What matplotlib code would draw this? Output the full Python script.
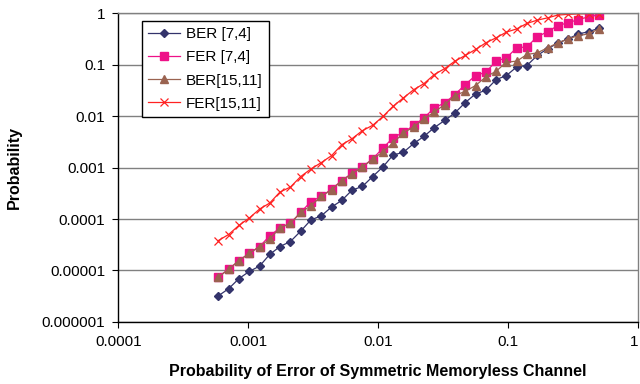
import matplotlib
matplotlib.use("Agg")
import matplotlib.pyplot as plt

plt.rcParams['font.family'] = ['Liberation Sans', 'DejaVu Sans']

# channel error probability (x axis)
p_err = [0.000588, 0.000705, 0.000846, 0.00102, 0.00122, 0.00146, 0.00175,
         0.00211, 0.00253, 0.00303, 0.00364, 0.00437, 0.00524, 0.00629,
         0.00755, 0.00906, 0.0109, 0.0130, 0.0156, 0.0188, 0.0225, 0.0270,
         0.0325, 0.0389, 0.0467, 0.0561, 0.0673, 0.0808, 0.0969, 0.1163,
         0.1395, 0.1674, 0.2009, 0.2411, 0.2894, 0.3472, 0.4167, 0.5]

ber_74 = [3.2e-6, 4.4e-6, 6.9e-6, 9.6e-6, 1.21e-5, 2.04e-5, 2.91e-5, 3.65e-5,
          5.8e-5, 9.6e-5, 1.15e-4, 1.71e-4, 2.30e-4, 3.65e-4, 4.3e-4, 6.7e-4,
          1.04e-3, 1.76e-3, 1.98e-3, 2.96e-3, 4.06e-3, 6.0e-3, 8.3e-3, 0.0116,
          0.0184, 0.0272, 0.032, 0.0516, 0.0618, 0.091, 0.097, 0.152, 0.205,
          0.264, 0.32, 0.40, 0.44, 0.52]

fer_74 = [7.6e-6, 1.05e-5, 1.55e-5, 2.16e-5, 2.91e-5, 4.7e-5, 6.7e-5, 8.3e-5,
          1.34e-4, 2.19e-4, 2.75e-4, 3.82e-4, 5.6e-4, 7.8e-4, 1.03e-3, 1.49e-3,
          2.41e-3, 3.83e-3, 4.85e-3, 6.65e-3, 9.3e-3, 0.0145, 0.0182, 0.0264,
          0.0413, 0.0619, 0.0718, 0.118, 0.137, 0.214, 0.224, 0.352, 0.44,
          0.58, 0.66, 0.76, 0.86, 0.94]

ber_1511 = [7.4e-6, 1.05e-5, 1.55e-5, 2.16e-5, 2.91e-5, 4.06e-5, 6.7e-5, 8.3e-5,
            1.34e-4, 1.81e-4, 2.75e-4, 3.71e-4, 5.6e-4, 7.6e-4, 1.03e-3, 1.47e-3,
            2.04e-3, 3.01e-3, 4.72e-3, 6.2e-3, 8.9e-3, 0.0121, 0.0168, 0.0252,
            0.0306, 0.0395, 0.0583, 0.0751, 0.1125, 0.118, 0.159, 0.171, 0.214,
            0.268, 0.32, 0.37, 0.40, 0.50]

fer_1511 = [3.81e-5, 4.99e-5, 7.5e-5, 1.05e-4, 1.56e-4, 2.04e-4, 3.34e-4, 4.19e-4,
            6.7e-4, 9.4e-4, 1.25e-3, 1.71e-3, 2.79e-3, 3.66e-3, 5.24e-3, 6.65e-3,
            9.95e-3, 0.0156, 0.0227, 0.033, 0.0432, 0.0647, 0.0847, 0.118, 0.152,
            0.199, 0.268, 0.336, 0.433, 0.50, 0.64, 0.74, 0.82, 0.93, 0.96, 0.98,
            0.99, 0.995]

decades = [0.000001, 0.00001, 0.0001, 0.001, 0.01, 0.1, 1]
decade_labels = ["0.000001", "0.00001", "0.0001", "0.001", "0.01", "0.1", "1"]
x_decades = [0.0001, 0.001, 0.01, 0.1, 1]
x_labels = ["0.0001", "0.001", "0.01", "0.1", "1"]

fig = plt.figure(figsize=(6.4, 3.84), dpi=100)
ax = fig.add_axes([0.185, 0.162, 0.812, 0.803])

ax.plot(p_err, ber_74, color='#33336b', marker='D', markersize=3.8, lw=0.9, label='BER [7,4]')
ax.plot(p_err, fer_74, color='#ee1188', marker='s', markersize=5.2, lw=0.9, label='FER [7,4]')
ax.plot(p_err, ber_1511, color='#9a6350', marker='^', markersize=5.2, lw=0.9, label='BER[15,11]')
ax.plot(p_err, fer_1511, color='#ff2222', marker='x', markersize=5.2, mew=0.9, lw=0.9, label='FER[15,11]')

ax.set_xscale('log')
ax.set_yscale('log')
ax.set_xlim(0.0001, 1)
ax.set_ylim(0.000001, 1)
ax.set_xticks(x_decades)
ax.set_xticklabels(x_labels)
ax.set_yticks(decades)
ax.set_yticklabels(decade_labels)
ax.minorticks_off()
ax.tick_params(axis='both', labelsize=11, direction='out', length=4.5, width=0.8, color='black')
ax.tick_params(axis='x', pad=5)
ax.tick_params(axis='y', pad=5)
# keep the "1" at the right edge inside the picture
ax.get_xticklabels()[-1].set_horizontalalignment('right')

ax.grid(axis='y', color='#808080', lw=1)
ax.set_axisbelow(True)
for side in ['top', 'right']:
    ax.spines[side].set_color('#808080')
    ax.spines[side].set_linewidth(1)
for side in ['left', 'bottom']:
    ax.spines[side].set_color('black')
    ax.spines[side].set_linewidth(1)

ax.set_xlabel("Probability of Error of Symmetric Memoryless Channel", fontsize=11.5, fontweight='bold', labelpad=11)
ax.set_ylabel("Probability", fontsize=11.5, fontweight='bold', labelpad=14)

leg = ax.legend(loc='upper left', bbox_to_anchor=(0.045, 0.975), fontsize=11, frameon=True,
                fancybox=False, edgecolor='black', handlelength=2.1, handletextpad=0.4,
                borderpad=0.4, labelspacing=0.6, borderaxespad=0)
leg.get_frame().set_linewidth(1)
leg.get_frame().set_alpha(1)

plt.savefig("out.png", dpi=100)
